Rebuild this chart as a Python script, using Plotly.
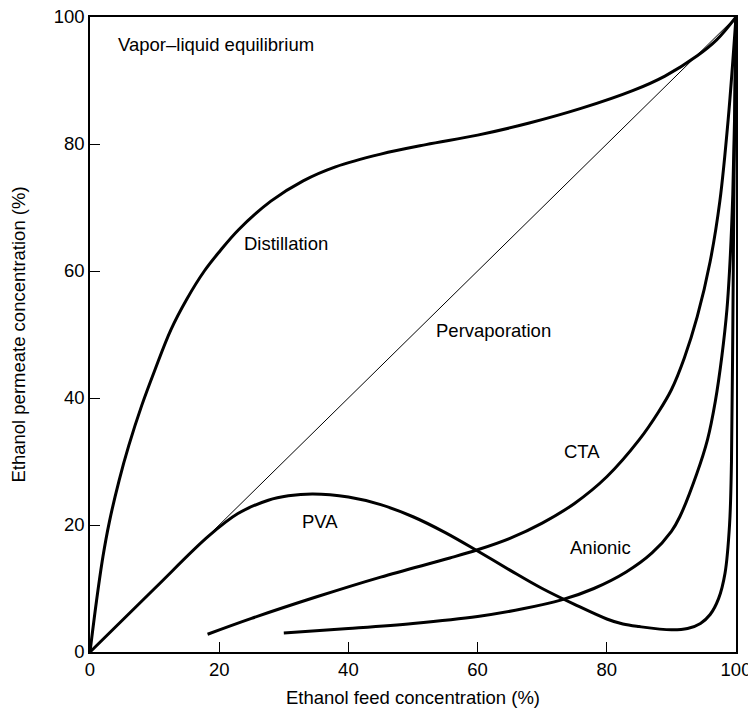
import plotly.graph_objects as go

# Distillation (vapor-liquid equilibrium)
dist_x = [0, 1, 2, 3, 4.5, 6, 8, 10, 12.5, 15, 17.7, 20, 23, 28, 33, 38, 45, 52, 60, 68, 76, 84, 89, 94, 97, 100]
dist_y = [0, 8, 15, 20.5, 27, 32.5, 38.8, 44.3, 50.7, 55.6, 60, 63, 66.5, 71, 74.2, 76.4, 78.4, 79.9, 81.4, 83.3, 85.6, 88.4, 90.7, 93.9, 96.4, 100]

# Pervaporation reference diagonal
diag_x = [0, 100]
diag_y = [0, 100]

# PVA membrane
pva_x = [0, 10, 18.3, 22.9, 27.6, 30.7, 34.5, 40, 45, 50, 55, 60, 65, 70, 75, 80, 82.5, 85, 90, 92.5, 94.5, 96, 97.3, 98.3, 99, 99.3, 99.5, 99.7, 100]
pva_y = [0, 10, 18.2, 21.8, 23.9, 24.6, 24.9, 24.4, 23.2, 21.3, 18.8, 15.9, 12.9, 10.0, 7.5, 5.2, 4.4, 4.0, 3.5, 3.7, 4.5, 5.9, 8.4, 12.4, 20, 30, 50, 75, 100]

# CTA membrane
cta_x = [18.2, 25, 35.1, 45, 55.7, 60, 65, 70, 75, 80, 85, 88, 90, 92, 94, 96, 97.5, 98.8, 100]
cta_y = [2.8, 5.3, 8.7, 11.8, 14.8, 16.1, 17.9, 20.3, 23.4, 27.6, 33.4, 37.8, 41.3, 46.3, 52.8, 61.5, 71, 84, 100]

# Anionic membrane
an_x = [30, 40, 50, 60, 67, 73, 78, 83, 87, 90, 91.3, 93.9, 95.6, 96.8, 97.8, 98.6, 99.1, 99.5, 99.8, 100]
an_y = [3, 3.7, 4.5, 5.6, 6.8, 8.2, 10, 12.6, 15.6, 19, 21.3, 28, 33.5, 39.5, 46.5, 54, 62, 72, 85, 100]

tick_vals = [0, 20, 40, 60, 80, 100]

# label texts and positions
label_text = ["Vapor\u2013liquid equilibrium", "Distillation", "Pervaporation", "PVA", "CTA", "Anionic"]
label_x = [4.0, 23.5, 53.3, 35.6, 76.2, 79.1]
label_y = [95.7, 64.3, 50.7, 20.6, 31.5, 16.4]
label_anchor = ["left", "left", "left", "center", "center", "center"]

FS = 18.5

fig = go.Figure()

def add_line(x, y, w, shape="spline"):
    fig.add_trace(go.Scatter(x=x, y=y, mode="lines",
                             line=dict(color="black", width=w, shape=shape, smoothing=1.0),
                             cliponaxis=False, showlegend=False, hoverinfo="skip"))

add_line(diag_x, diag_y, 1, "linear")
add_line(dist_x, dist_y, 3)
add_line(pva_x, pva_y, 3)
add_line(cta_x, cta_y, 3)
add_line(an_x, an_y, 3)

for t, x, y, a in zip(label_text, label_x, label_y, label_anchor):
    fig.add_annotation(x=x, y=y, text=t, showarrow=False, xanchor=a, yanchor="middle",
                       font=dict(size=FS, color="black"))

axis_common = dict(range=[0, 100], tickvals=tick_vals, ticks="inside", ticklen=10,
                   tickwidth=1, tickcolor="black", showline=True, linecolor="black",
                   linewidth=1.5, mirror=True, showgrid=False, zeroline=False,
                   automargin=False, ticklabeloverflow="allow",
                   tickfont=dict(size=FS, color="black"))

fig.update_xaxes(**axis_common, title=dict(text="Ethanol feed concentration (%)",
                                           font=dict(size=FS, color="black"), standoff=12))
fig.update_yaxes(**axis_common, title=dict(text="Ethanol permeate concentration (%)",
                                           font=dict(size=FS, color="black"), standoff=35))

fig.update_layout(width=748, height=703, margin=dict(l=82, r=20, t=9, b=59),
                  plot_bgcolor="white", paper_bgcolor="white",
                  font=dict(family="Liberation Sans, Arial, sans-serif", size=FS, color="black"))

fig.write_html("out.html")
